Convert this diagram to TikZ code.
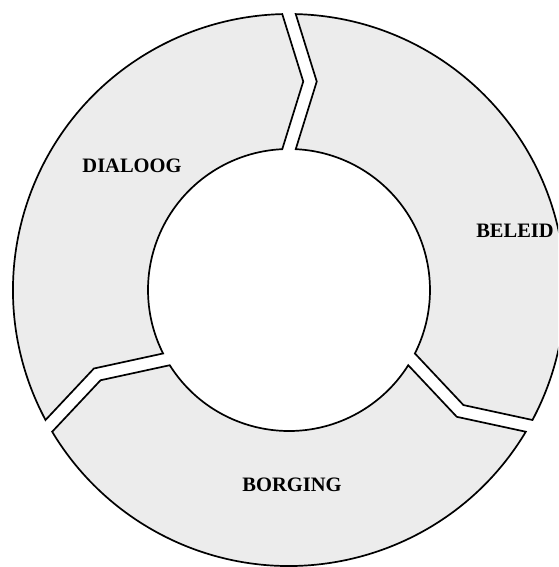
\documentclass[tikz,border=0pt]{standalone}
\usepackage{fontspec}
\setmainfont{Liberation Serif}
\usetikzlibrary{calc}
\definecolor{segfill}{RGB}{236,236,236}
\tikzset{
  seg/.style={fill=segfill, draw=black, line width=1.7pt, line join=miter},
  lab/.style={font=\bfseries\fontsize{20.5}{24}\selectfont, inner sep=0pt}
}
\begin{document}
\begin{tikzpicture}[x=1pt,y=1pt]
\useasboundingbox (-289,-277) rectangle (269,290);
\clip (-289,-277) rectangle (269,290);
\def\ROut{276}\def\RIn{141}\def\RMid{208.5}\def\HW{6.75}\def\DD{21}
\foreach \a/\b in {209.5/90, 90/-29.5, -29.5/-150.5}{
  \path[seg] ({\a-asin(\HW/\ROut)}:\ROut)
    arc[start angle={\a-asin(\HW/\ROut)}, end angle={\b+asin(\HW/\ROut)}, radius=\ROut]
    -- ($({\b}:\RMid)+({\b-90}:{\DD-\HW})$)
    -- ({\b+asin(\HW/\RIn)}:\RIn)
    arc[start angle={\b+asin(\HW/\RIn)}, end angle={\a-asin(\HW/\RIn)}, radius=\RIn]
    -- ($({\a}:\RMid)+({\a-90}:{\DD+\HW})$) -- cycle;
}
\node[lab] (dialoog) at (-157,124) {DIALOOG};
\node[lab] (beleid) at (226,59) {BELEID};
\node[lab] (borging) at (3,-195) {BORGING};
\end{tikzpicture}
\end{document}
